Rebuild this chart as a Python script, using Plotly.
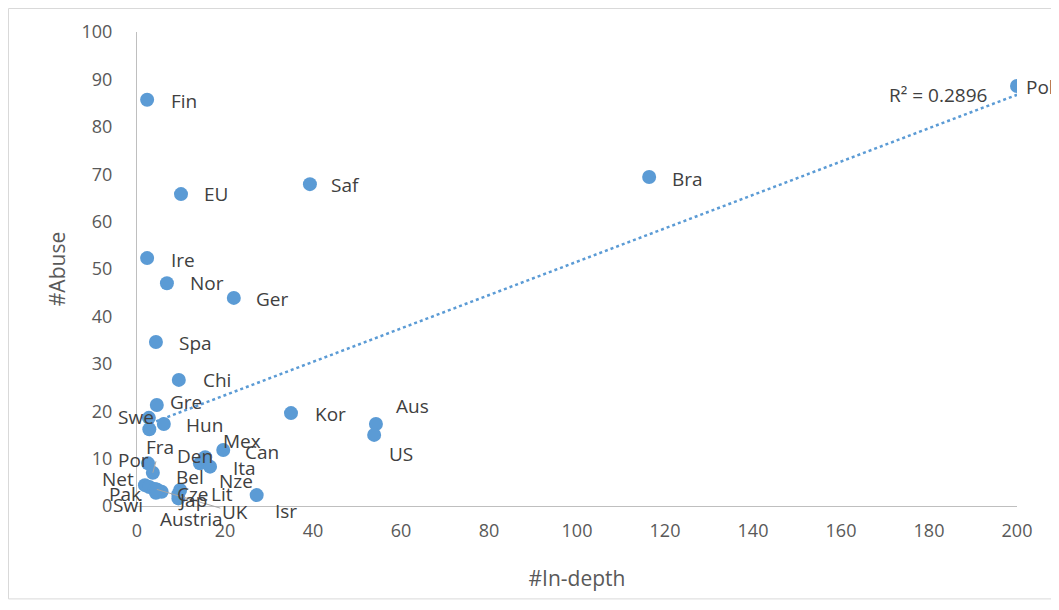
import numpy as np
import plotly.graph_objects as go

countries = ["Pol", "Fin", "Bra", "Saf", "EU", "Ire", "Nor", "Ger", "Spa", "Chi",
             "Gre", "Swe", "Nze", "Hun", "Kor", "Aus", "US", "Mex", "Den", "Ita",
             "Can", "Por", "Fra", "Net", "Pak", "Swi", "Austria", "Lit", "UK",
             "Bel", "Cze", "Jap", "Isr"]
in_depth = [200, 2.3, 116.4, 39.3, 10.0, 2.3, 6.8, 22.0, 4.3, 9.5,
            4.5, 2.7, 2.8, 6.1, 35.0, 54.3, 53.9, 19.6, 15.5, 14.3,
            16.6, 2.5, 3.6, 1.8, 2.8, 4.0, 4.3, 5.6, 4.5,
            9.8, 9.4, 9.4, 27.2]
abuse = [88.6, 85.7, 69.4, 67.9, 65.8, 52.3, 47.0, 43.9, 34.6, 26.6,
         21.3, 18.6, 16.2, 17.3, 19.6, 17.3, 15.0, 11.8, 10.3, 9.0,
         8.3, 9.0, 7.0, 4.4, 4.0, 3.6, 2.8, 3.0, 3.5,
         3.4, 2.5, 1.6, 2.3]
r2_text = "R² = 0.2896"

# label offsets in pixels (dx right, dy down) and whether a leader line is drawn
label_offsets = {
    "Pol": (23, 1, False), "Fin": (37, 1, False), "Bra": (38, 2, False),
    "Saf": (36, 1, False), "EU": (35, 0, False), "Ire": (36, 2, False),
    "Nor": (40, 0, False), "Ger": (38, 1, False), "Spa": (40, 1, False),
    "Chi": (38, 0, False), "Gre": (29, -3, False), "Swe": (-13, -1, False),
    "Nze": (87, 52, False), "Hun": (41, 1, False), "Kor": (39, 1, False),
    "Aus": (37, -18, False), "US": (27, 19, False), "Mex": (19, -9, False),
    "Den": (-10, -1, False), "Ita": (45, 5, False), "Can": (52, -15, False),
    "Por": (-15, -3, False), "Fra": (7, -26, True), "Net": (-27, -6, False),
    "Pak": (-24, 7, False), "Swi": (-27, 16, False), "Austria": (36, 26, False),
    "Lit": (60, 2, False), "UK": (78, 23, True), "Bel": (10, -13, False),
    "Cze": (15, 0, False), "Jap": (14, 2, False), "Isr": (29, 16, False),
}

slope, intercept = np.polyfit(in_depth, abuse, 1)
x_fit = np.array([min(in_depth), max(in_depth)])
y_fit = slope * x_fit + intercept

fig = go.Figure()
fig.add_trace(go.Scatter(
    x=x_fit, y=y_fit, mode="lines",
    line=dict(color="#5B9BD5", width=2.5, dash="dot"),
    hoverinfo="skip", showlegend=False))
fig.add_trace(go.Scatter(
    x=in_depth, y=abuse, mode="markers",
    marker=dict(color="#5B9BD5", size=14),
    text=countries, showlegend=False))

label_font = dict(family="Open Sans, Noto Sans, sans-serif", size=19, color="#404040")
for c, xv, yv in zip(countries, in_depth, abuse):
    dx, dy, leader = label_offsets[c]
    fig.add_annotation(
        x=xv, y=yv, text=c, showarrow=True, ax=dx, ay=dy,
        arrowhead=0, arrowwidth=1,
        arrowcolor="#A6A6A6" if leader else "rgba(0,0,0,0)",
        font=label_font)

fig.add_annotation(
    x=in_depth[0], y=abuse[0], text=r2_text, showarrow=False,
    xshift=-79, yshift=-9, font=label_font)

tick_font = dict(family="Open Sans, sans-serif", size=18, color="#595959")
title_font = dict(family="Open Sans, sans-serif", size=21, color="#595959")
fig.update_xaxes(
    range=[0, 200], dtick=20, showgrid=False, zeroline=False,
    showline=True, linecolor="#BFBFBF", linewidth=1,
    tickfont=tick_font, ticks="", ticklabelstandoff=8,
    title=dict(text="#In-depth", font=title_font, standoff=30))
fig.update_yaxes(
    range=[0, 100], dtick=10, showgrid=False, zeroline=False,
    showline=True, linecolor="#BFBFBF", linewidth=1,
    tickfont=tick_font, ticks="", ticklabelstandoff=20,
    title=dict(text="#Abuse", font=title_font, standoff=10))

fig.add_shape(type="rect", xref="paper", yref="paper",
              x0=-0.146, x1=1.046, y0=-0.196, y1=1.0496,
              line=dict(color="#D9D9D9", width=1), fillcolor="rgba(0,0,0,0)")

fig.update_layout(
    width=1051, height=594,
    margin=dict(l=129, r=42, t=24, b=96),
    paper_bgcolor="white", plot_bgcolor="white",
)
fig.write_html("out.html")
